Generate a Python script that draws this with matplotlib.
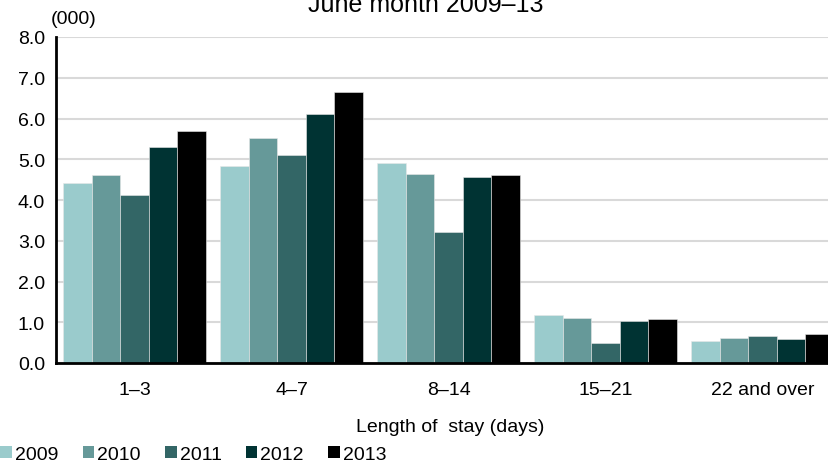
import matplotlib
matplotlib.use("Agg")
import matplotlib.pyplot as plt
from matplotlib.patches import Patch
import numpy as np

plt.rcParams['font.family'] = ['Liberation Sans', 'DejaVu Sans']

categories = ["1–3", "4–7", "8–14", "15–21", "22 and over"]
years = ["2009", "2010", "2011", "2012", "2013"]
v2009 = [4.42, 4.84, 4.91, 1.18, 0.55]
v2010 = [4.62, 5.52, 4.64, 1.10, 0.61]
v2011 = [4.12, 5.10, 3.21, 0.49, 0.67]
v2012 = [5.30, 6.10, 4.56, 1.02, 0.60]
v2013 = [5.70, 6.66, 4.62, 1.08, 0.72]
series = [v2009, v2010, v2011, v2012, v2013]
colors = ["#9ACBCC", "#669999", "#336666", "#003333", "#000000"]
yticks = [0, 1, 2, 3, 4, 5, 6, 7, 8]

W, H = 829, 464
FS = 14
fig = plt.figure(figsize=(W / 100, H / 100), dpi=100)
ax = fig.add_axes([56 / W, 100 / H, 785 / W, 326 / H])

x = np.arange(len(categories))
bw = 28.5 / 157
n = len(series)
for i, (vals, c) in enumerate(zip(series, colors)):
    ax.bar(x + (i - (n - 1) / 2) * bw, vals, width=bw, color=c,
           edgecolor="#e8e8e8", linewidth=0.4, zorder=3)

ax.set_xlim(-0.5, 4.5)
ax.set_ylim(0, 8)
ax.set_yticks(yticks)
ax.set_yticklabels([f"{t:.1f}" for t in yticks], fontsize=FS)
ax.set_xticks(x)
ax.set_xticklabels(categories, fontsize=FS)
ax.tick_params(axis='both', length=0)
ax.tick_params(axis='x', pad=13)
ax.tick_params(axis='y', pad=8)
ax.grid(axis='y', color="#d9d9d9", linewidth=1.5, zorder=0)
ax.set_axisbelow(True)
for s in ["top", "right"]:
    ax.spines[s].set_visible(False)
for s in ["left", "bottom"]:
    ax.spines[s].set_color("black")
    ax.spines[s].set_linewidth(2)
    ax.spines[s].set_zorder(4)

ax.set_xlabel("Length of  stay (days)", fontsize=FS)
ax.xaxis.set_label_coords((450 - 56) / 785, -(419 - 364) / 326)

fig.text(51 / W, 1 - 20 / H, "(000)", fontsize=FS, ha="left", va="center")
fig.text(426 / W, 1 - 12 / H, "June month 2009–13", fontsize=18, ha="center", va="baseline")

handles = [Patch(facecolor=c, edgecolor="none", label=y) for c, y in zip(colors, years)]
fig.legend(handles=handles, loc="lower left", bbox_to_anchor=(-0.002, -0.004), ncol=5,
           frameon=False, fontsize=FS, handlelength=0.6, handleheight=0.6,
           handletextpad=0.15, columnspacing=1.25, borderaxespad=0, borderpad=0.1)

fig.savefig("out.png", dpi=100)
